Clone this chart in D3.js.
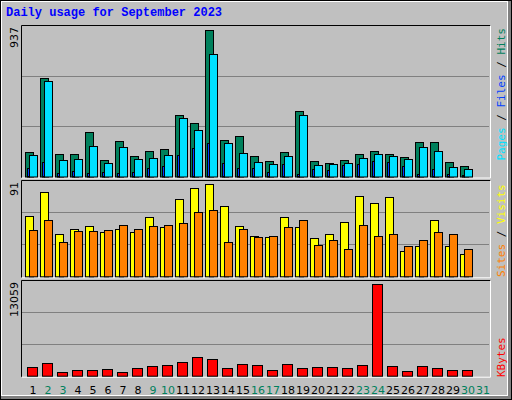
<!DOCTYPE html>
<html><head><meta charset="utf-8">
<script src="https://cdn.jsdelivr.net/npm/d3@7"></script>
<style>body{margin:0;background:#c0c0c0}svg{display:block}</style>
</head><body><svg id="c" width="512" height="400"></svg>
<script>
const days = d3.range(1, 32);
const weekendDays = [2,3,9,10,16,17,23,24,30,31];
const hits  = [154,631,141,141,281,103,224,129,160,173,390,339,937,230,256,129,97,154,415,97,84,103,141,160,141,122,218,218,90,65,0];
const files = [135,612,103,109,192,84,186,109,116,135,370,294,778,211,148,90,78,129,390,71,78,84,116,141,129,109,186,160,59,46,0];
const pages = [52,90,22,32,25,27,22,29,52,65,135,180,211,84,52,52,27,78,13,46,39,71,78,97,90,65,13,46,14,10,0];
const visits = [59,83,42,47,49.5,43.5,47,43.5,58,48.5,76,87,91,69,49.5,39.5,38.5,58,48.5,37.5,42,53.5,79,72,78,24.5,29.5,55,29.5,21.5,0];
const sites  = [45.5,55,34,44.5,44.5,45.5,50.5,46.5,49.5,50.5,52.5,63,65,34,47,38.5,39.5,48.5,55,30.5,35.5,26.5,50.5,39.5,42,29.5,35.5,43.5,42,26.5,0];
const kbytes = [1200,1770,490,770,770,910,490,1060,1340,1490,1910,2630,2340,1060,1630,1490,770,1630,1060,1200,1200,1060,1490,13059,1340,630,1340,1060,770,770,0];
const maxLabels = ["937","91","13059"];

const svg = d3.select("#c");
const C = {hits:"#00805c",files:"#00e0ff",pages:"#0040ff",visits:"#ffff00",sites:"#ff8000",kb:"#ff0000",wk:"#00805c"};
// outer frame
svg.append("rect").attr("x",0).attr("y",0).attr("width",512).attr("height",400).attr("fill","#808080");
svg.append("rect").attr("x",0).attr("y",0).attr("width",508).attr("height",396).attr("fill","#ffffff");
svg.append("rect").attr("x",2).attr("y",2).attr("width",505).attr("height",393).attr("fill","#c0c0c0");
svg.append("rect").attr("x",0.5).attr("y",0.5).attr("width",511).attr("height",399).attr("fill","none").attr("stroke","#000");

svg.append("text").attr("x",6).attr("y",16).attr("fill","#0000ff").attr("font-family","Liberation Mono, DejaVu Sans Mono, monospace")
  .attr("font-weight","bold").attr("font-size",12).text("Daily usage for September 2023");

const x = d3.scaleLinear().domain([1,31]).range([25,475]);
const panels = [{top:25,bot:176.5,k:0.97},{top:180,bot:276.3,k:0.96},{top:280,bot:375.7,k:0.96}];
panels.forEach(p=>{
  svg.append("rect").attr("x",21).attr("y",p.top).attr("width",469).attr("height",p.bot-p.top+1).attr("fill","#c0c0c0");
  const h=p.bot-p.top;
  [1,2].forEach(i=>svg.append("line").attr("x1",22).attr("x2",489).attr("y1",Math.round(p.top+h*i/3)+0.5).attr("y2",Math.round(p.top+h*i/3)+0.5).attr("stroke","#808080"));
  svg.append("path").attr("d",`M21.5,${p.bot+1.5}V${p.top+0.5}H490.5`).attr("fill","none").attr("stroke","#000");
  svg.append("path").attr("d",`M21.5,${p.bot+1.5}H490.5V${p.top+0.5}`).attr("fill","none").attr("stroke","#fff");
});
function ys(p,max){return d3.scaleLinear().domain([0,max/p.k]).range([p.bot,p.top]);}
function bars(data,p,y,dx,w,color){
  svg.append("g").selectAll("rect").data(days.filter((d,i)=>data[i]>0)).join("rect")
    .attr("x",d=>x(d)+dx+0.5).attr("y",d=>Math.round(y(data[d-1]))+0.5).attr("width",w)
    .attr("height",d=>p.bot-Math.round(y(data[d-1]))).attr("fill",color).attr("stroke","#000");
}
const y0=ys(panels[0],d3.max(hits));
bars(hits,panels[0],y0,0,8,C.hits);
bars(files,panels[0],y0,4,8,C.files);
bars(pages,panels[0],y0,2,2,C.pages);
const y1=ys(panels[1],d3.max(visits));
bars(visits,panels[1],y1,0,8,C.visits);
bars(sites,panels[1],y1,4,8,C.sites);
const y2=ys(panels[2],d3.max(kbytes));
bars(kbytes,panels[2],y2,2,10,C.kb);

const font="DejaVu Sans, sans-serif";
maxLabels.forEach((t,i)=>{
  svg.append("text").attr("transform",`translate(18,${panels[i].top+2}) rotate(-90)`).attr("text-anchor","end")
    .attr("font-family",font).attr("font-size",11).attr("fill","#000").text(t);
});
function rlabel(parts,yPos,anchor){
  const t=svg.append("text").attr("transform",`translate(497,${yPos}) rotate(90)`).attr("text-anchor",anchor)
    .attr("font-family","DejaVu Sans Mono, monospace").attr("font-size",11);
  // rotated 90 reads top-to-bottom; reference reads bottom-to-top, so rotate -90
  t.attr("transform",`translate(505,${yPos}) rotate(-90)`);
  parts.forEach(([s,c])=>t.append("tspan").attr("fill",c).text(s));
}
rlabel([["Pages",C.files],[" / ","#000"],["Files",C.pages],[" / ","#000"],["Hits",C.hits]],28,"end");
rlabel([["Sites",C.sites],[" / ","#000"],["Visits",C.visits]],277,"start");
rlabel([["KBytes",C.kb]],377,"start");

svg.append("g").selectAll("text").data(days).join("text")
  .attr("x",d=>x(d)+8).attr("y",394).attr("text-anchor","middle").attr("font-family",font).attr("font-size",11)
  .attr("fill",d=>weekendDays.includes(d)?C.wk:"#000").text(d=>d);
</script></body></html>
